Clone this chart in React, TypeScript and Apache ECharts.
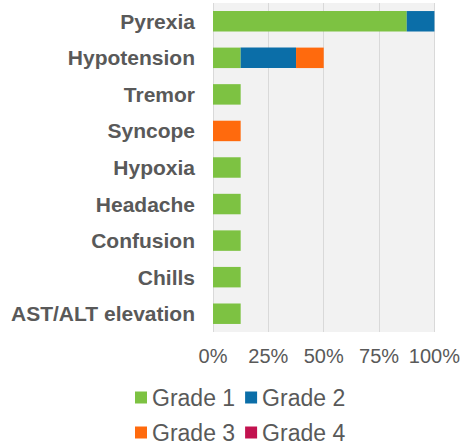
import React, { useEffect, useRef } from "react";
import * as echarts from "echarts";

const categories = ["Pyrexia", "Hypotension", "Tremor", "Syncope", "Hypoxia", "Headache", "Confusion", "Chills", "AST/ALT elevation"];
const grade1 = [87.5, 12.5, 12.5, 0, 12.5, 12.5, 12.5, 12.5, 12.5];
const grade2 = [12.5, 25, 0, 0, 0, 0, 0, 0, 0];
const grade3 = [0, 12.5, 0, 12.5, 0, 0, 0, 0, 0];
const grade4 = [0, 0, 0, 0, 0, 0, 0, 0, 0];
const seriesNames = ["Grade 1", "Grade 2", "Grade 3", "Grade 4"];
const colors = ["#7DC242", "#0B6EA8", "#FF6A0D", "#C2124F"];

export default function App() {
  const ref = useRef<HTMLDivElement>(null);
  useEffect(() => {
    if (!ref.current) return;
    const chart = echarts.init(ref.current, null, { renderer: "svg" });
    const data = [grade1, grade2, grade3, grade4];
    const font = "Liberation Sans, Arial, sans-serif";
    chart.setOption({
      animation: false,
      textStyle: { fontFamily: font },
      grid: {
        left: 213, right: 28, top: 3, bottom: 112,
        show: true, backgroundColor: "#F2F2F2", borderWidth: 0,
      },
      legend: [
        {
          data: [seriesNames[0], seriesNames[1]],
          left: 130, top: 381, itemWidth: 12, itemHeight: 12, itemGap: 10,
          textStyle: { fontSize: 23, color: "#595959", fontFamily: font },
          icon: "rect",
        },
        {
          data: [seriesNames[2], seriesNames[3]],
          left: 130, top: 416, itemWidth: 12, itemHeight: 12, itemGap: 10,
          textStyle: { fontSize: 23, color: "#595959", fontFamily: font },
          icon: "rect",
        },
      ],
      xAxis: {
        type: "value", min: 0, max: 100, interval: 25,
        axisLabel: { formatter: "{value}%", fontSize: 20, color: "#595959", margin: 14, fontFamily: font },
        splitLine: { show: true, lineStyle: { color: "#D9D9D9", width: 1 } },
        axisLine: { show: false }, axisTick: { show: false },
      },
      yAxis: {
        type: "category", data: categories, inverse: true,
        axisLabel: { fontSize: 21, fontWeight: "bold", color: "#595959", margin: 18, fontFamily: font },
        axisLine: { show: false }, axisTick: { show: false },
      },
      series: seriesNames.map((name, i) => ({
        name, type: "bar", stack: "total", data: data[i],
        barCategoryGap: "44%",
        itemStyle: { color: colors[i] },
      })),
    });
    return () => chart.dispose();
  }, []);
  return <div ref={ref} style={{ width: 463, height: 444, position: "absolute", left: 0, top: 0 }} />;
}
